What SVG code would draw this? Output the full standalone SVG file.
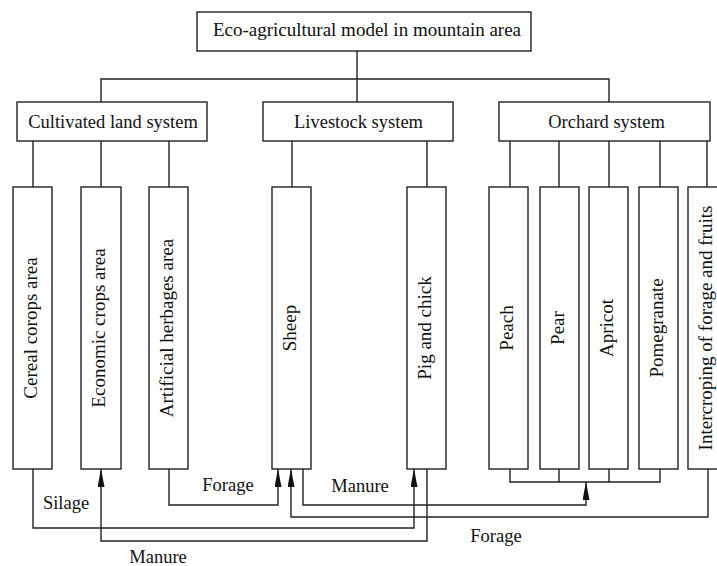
<svg xmlns="http://www.w3.org/2000/svg" width="717" height="566" viewBox="0 0 717 566">
<style>
  .box{fill:#fff;stroke:#222;stroke-width:1.4}
  .ln{fill:none;stroke:#222;stroke-width:1.4}
  .arr{fill:none;stroke:#222;stroke-width:1.4;marker-end:url(#ah)}
  text{font-family:"Liberation Serif","Times New Roman",serif;fill:#111}
  .t1{font-size:19px;text-anchor:middle}
  .t2{font-size:18.5px;text-anchor:middle}
  .tv{font-size:19px;text-anchor:middle}
  .lb{font-size:18.5px;text-anchor:middle}
</style>
<defs>
  <marker id="ah" markerUnits="userSpaceOnUse" markerWidth="18" markerHeight="8" refX="18" refY="3.5" orient="auto">
    <path d="M0,0 L18,3.5 L0,7 Z" fill="#111"/>
  </marker>
</defs>
<rect width="717" height="566" fill="#fff"/>

<g id="connectors">
  <!-- top level -->
  <path class="ln" d="M357,51 V102"/>
  <path class="ln" d="M101,102 V79 H609 V102"/>
  <!-- level 2 to level 3 -->
  <path class="ln" d="M33,141 V187 M101,141 V187 M169,141 V187"/>
  <path class="ln" d="M292,141 V187 M427,141 V187"/>
  <path class="ln" d="M510,141 V187 M559,141 V187 M609,141 V187 M660,141 V187 M707,141 V187"/>
  <!-- orchard collector -->
  <path class="ln" d="M510,469 V482 H660 V469 M559,469 V482 M609,469 V482"/>
  <!-- flows -->
  <path class="arr" d="M169,469 V505 H278 V469"/>
  <path class="arr" d="M708,469 V517 H291 V469"/>
  <path class="arr" d="M303,469 V505 H586 V482"/>
  <path class="arr" d="M33,469 V528 H414 V469"/>
  <path class="arr" d="M427,469 V541 H101 V469"/>
</g>

<g id="labels">
  <text class="lb" x="228" y="491">Forage</text>
  <text class="lb" x="360" y="492">Manure</text>
  <text class="lb" x="66" y="509">Silage</text>
  <text class="lb" x="496" y="542">Forage</text>
  <text class="lb" x="158" y="563">Manure</text>
</g>

<g id="eco-model">
  <rect class="box" x="197" y="12" width="334" height="39"/>
  <text class="t1" x="367" y="36">Eco-agricultural model in mountain area</text>
</g>
<g id="cultivated-land">
  <rect class="box" x="17" y="102" width="190" height="39"/>
  <text class="t2" x="113" y="128">Cultivated land system</text>
</g>
<g id="livestock">
  <rect class="box" x="263" y="102" width="190" height="39"/>
  <text class="t2" x="358.5" y="128">Livestock system</text>
</g>
<g id="orchard">
  <rect class="box" x="499" y="102" width="211" height="39"/>
  <text class="t2" x="606.5" y="128">Orchard system</text>
</g>

<g id="cereal">
  <rect class="box" x="13" y="187" width="39" height="282"/>
  <text class="tv" transform="translate(36.5,328) rotate(-90)">Cereal corops area</text>
</g>
<g id="economic">
  <rect class="box" x="81" y="187" width="40" height="282"/>
  <text class="tv" transform="translate(105,328) rotate(-90)">Economic crops area</text>
</g>
<g id="artificial">
  <rect class="box" x="149" y="187" width="39" height="282"/>
  <text class="tv" transform="translate(172.5,328) rotate(-90)">Artificial herbages area</text>
</g>
<g id="sheep">
  <rect class="box" x="272" y="187" width="39" height="282"/>
  <text class="tv" transform="translate(295.5,328) rotate(-90)">Sheep</text>
</g>
<g id="pig">
  <rect class="box" x="407" y="187" width="39" height="282"/>
  <text class="tv" transform="translate(430.5,328) rotate(-90)">Pig and chick</text>
</g>
<g id="peach">
  <rect class="box" x="489" y="187" width="39" height="282"/>
  <text class="tv" transform="translate(512.5,328) rotate(-90)">Peach</text>
</g>
<g id="pear">
  <rect class="box" x="540" y="187" width="39" height="282"/>
  <text class="tv" transform="translate(563.5,328) rotate(-90)">Pear</text>
</g>
<g id="apricot">
  <rect class="box" x="589" y="187" width="39" height="282"/>
  <text class="tv" transform="translate(612.5,328) rotate(-90)">Apricot</text>
</g>
<g id="pomegranate">
  <rect class="box" x="639" y="187" width="39" height="282"/>
  <text class="tv" transform="translate(662.5,328) rotate(-90)">Pomegranate</text>
</g>
<g id="intercropping">
  <rect class="box" x="688" y="187" width="39" height="282"/>
  <text class="tv" transform="translate(711.5,328) rotate(-90)">Intercroping of forage and fruits</text>
</g>
</svg>
